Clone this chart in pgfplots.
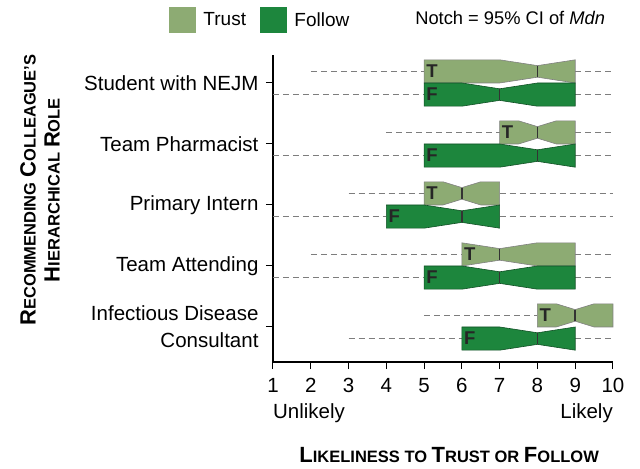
\documentclass[border=0pt]{standalone}
\usepackage{pgfplots}
\pgfplotsset{compat=1.18}
\usepackage{fontspec}
\setmainfont{Liberation Sans}
\definecolor{trustc}{RGB}{141,171,115}
\definecolor{followc}{RGB}{29,134,61}
\definecolor{whisk}{RGB}{125,125,125}
\newcommand{\BC}[1]{{\fontsize{22bp}{24bp}\selectfont #1}}
\newcommand{\SC}[1]{{\fontsize{16.5bp}{24bp}\selectfont #1}}
\begin{document}
\begin{tikzpicture}
\begin{axis}[
  at={(0,0)}, anchor=south west,
  scale only axis, width=340bp, height=307bp,
  xmin=1, xmax=10, ymin=0.426, ymax=5.459,
  axis lines=left, axis line style={-, line width=1.2bp},
  xtick={1,2,3,4,5,6,7,8,9,10}, ytick={1,2,3,4,5},
  yticklabels={{Infectious Disease\\Consultant},Team Attending,Primary Intern,Team Pharmacist,Student with NEJM},
  tick align=outside, major tick length=7bp, tick style={line width=1bp, black},
  ticklabel style={font=\fontsize{20.5bp}{27bp}\selectfont},
  xticklabel style={yshift=-6bp},
  yticklabel style={align=right, xshift=-4bp},
  /pgf/number format/assume math mode=true,
  unbounded coords=jump,
  clip=false,
  xlabel={\BC{L}\SC{IKELINESS TO }\BC{T}\SC{RUST OR }\BC{F}\SC{OLLOW}},
  xlabel style={at={(rel axis cs:0.518,-0.303)}, anchor=center, font=\bfseries},
  ylabel={\BC{R}\SC{ECOMMENDING }\BC{C}\SC{OLLEAGUE'S}\\\BC{H}\SC{IERARCHICAL }\BC{R}\SC{OLE}},
  ylabel style={at={(rel axis cs:-0.685,0.56)}, anchor=center, align=center, font=\fontsize{22bp}{24bp}\selectfont\bfseries},
  legend style={at={(rel axis cs:-0.315,1.114)}, anchor=west, draw=none, fill=none,
    legend columns=2, font=\fontsize{19bp}{22bp}\selectfont,
    /tikz/every odd column/.append style={column sep=6bp},
    /tikz/every even column/.append style={column sep=12bp}},
]
\addlegendimage{legend image code/.code={\fill[trustc] (0bp,-12.5bp) rectangle (26bp,12.5bp);}}
\addlegendentry{Trust}
\addlegendimage{legend image code/.code={\fill[followc] (0bp,-12.5bp) rectangle (26bp,12.5bp);}}
\addlegendentry{Follow}

% whiskers
\addplot[forget plot, whisk, line width=1.5bp, dash pattern=on 6bp off 4bp] coordinates {
(2,5.19) (5,5.19) (5,nan) (9,5.19) (10,5.19) (10,nan)
(1,4.81) (5,4.81) (5,nan) (9,4.81) (10,4.81) (10,nan)
(4,4.19) (7,4.19) (7,nan) (9,4.19) (10,4.19) (10,nan)
(1,3.81) (5,3.81) (5,nan) (9,3.81) (10,3.81) (10,nan)
(3,3.19) (5,3.19) (5,nan) (7,3.19) (10,3.19) (10,nan)
(1,2.81) (4,2.81) (4,nan) (7,2.81) (10,2.81) (10,nan)
(2,2.19) (6,2.19) (6,nan) (9,2.19) (10,2.19) (10,nan)
(1,1.81) (5,1.81) (5,nan) (9,1.81) (10,1.81) (10,nan)
(5,1.19) (8,1.19) (8,nan)
(3,0.81) (6,0.81) (6,nan) (9,0.81) (10,0.81)
};

% Trust boxes
\addplot[forget plot, fill=trustc, draw=black!50, line width=0.6bp] coordinates {(5,5) (7,5) (8,5.095) (9,5) (9,5.38) (8,5.285) (7,5.38) (5,5.38)} -- cycle;
\addplot[forget plot, fill=trustc, draw=black!50, line width=0.6bp] coordinates {(7,4) (7.5,4) (8,4.095) (8.5,4) (9,4) (9,4.38) (8.5,4.38) (8,4.285) (7.5,4.38) (7,4.38)} -- cycle;
\addplot[forget plot, fill=trustc, draw=black!50, line width=0.6bp] coordinates {(5,3) (5.5,3) (6,3.095) (6.5,3) (7,3) (7,3.38) (6.5,3.38) (6,3.285) (5.5,3.38) (5,3.38)} -- cycle;
\addplot[forget plot, fill=trustc, draw=black!50, line width=0.6bp] coordinates {(6,2) (7,2.095) (8,2) (9,2) (9,2.38) (8,2.38) (7,2.285) (6,2.38)} -- cycle;
\addplot[forget plot, fill=trustc, draw=black!50, line width=0.6bp] coordinates {(8,1) (8.5,1) (9,1.095) (9.5,1) (10,1) (10,1.38) (9.5,1.38) (9,1.285) (8.5,1.38) (8,1.38)} -- cycle;

% Follow boxes
\addplot[forget plot, fill=followc, draw=followc!60!black, line width=0.6bp] coordinates {(5,4.62) (6,4.62) (7,4.715) (8,4.62) (9,4.62) (9,5) (8,5) (7,4.905) (6,5) (5,5)} -- cycle;
\addplot[forget plot, fill=followc, draw=followc!60!black, line width=0.6bp] coordinates {(5,3.62) (7,3.62) (8,3.715) (9,3.62) (9,4) (8,3.905) (7,4) (5,4)} -- cycle;
\addplot[forget plot, fill=followc, draw=followc!60!black, line width=0.6bp] coordinates {(4,2.62) (5,2.62) (6,2.715) (7,2.62) (7,3) (6,2.905) (5,3) (4,3)} -- cycle;
\addplot[forget plot, fill=followc, draw=followc!60!black, line width=0.6bp] coordinates {(5,1.62) (6,1.62) (7,1.715) (8,1.62) (9,1.62) (9,2) (8,2) (7,1.905) (6,2) (5,2)} -- cycle;
\addplot[forget plot, fill=followc, draw=followc!60!black, line width=0.6bp] coordinates {(6,0.62) (7,0.62) (8,0.715) (9,0.62) (9,1) (8,0.905) (7,1) (6,1)} -- cycle;

% medians
\addplot[forget plot, black!80, line width=1.5bp] coordinates {
(8,5.095) (8,5.285) (8,nan) (7,4.715) (7,4.905) (7,nan)
(8,4.095) (8,4.285) (8,nan) (8,3.715) (8,3.905) (8,nan)
(6,3.095) (6,3.285) (6,nan) (6,2.715) (6,2.905) (6,nan)
(7,2.095) (7,2.285) (7,nan) (7,1.715) (7,1.905) (7,nan)
(9,1.095) (9,1.285) (9,nan) (8,0.715) (8,0.905)
};

\begin{scope}[every node/.style={anchor=west, inner sep=2bp, font=\fontsize{18.5bp}{20bp}\selectfont\bfseries, text=black!85}]
\node at (axis cs:5,5.19) {T};
\node at (axis cs:5,4.81) {F};
\node at (axis cs:7,4.19) {T};
\node at (axis cs:5,3.81) {F};
\node at (axis cs:5,3.19) {T};
\node at (axis cs:4,2.81) {F};
\node at (axis cs:6,2.19) {T};
\node at (axis cs:5,1.81) {F};
\node at (axis cs:8,1.19) {T};
\node at (axis cs:6,0.81) {F};
\end{scope}

\node[anchor=west, inner sep=0pt, font=\fontsize{20.5bp}{24bp}\selectfont] at (rel axis cs:0,-0.167) {Unlikely};
\node[anchor=east, inner sep=0pt, font=\fontsize{20.5bp}{24bp}\selectfont] at (rel axis cs:1,-0.167) {Likely};
\node[anchor=west, inner sep=0pt, font=\fontsize{18.3bp}{22bp}\selectfont] at (rel axis cs:0.418,1.12) {Notch = 95\% CI of \textit{Mdn}};
\end{axis}
\pgfresetboundingbox
\path (-273bp,-107bp) rectangle (367bp,362bp);
\end{tikzpicture}
\end{document}
